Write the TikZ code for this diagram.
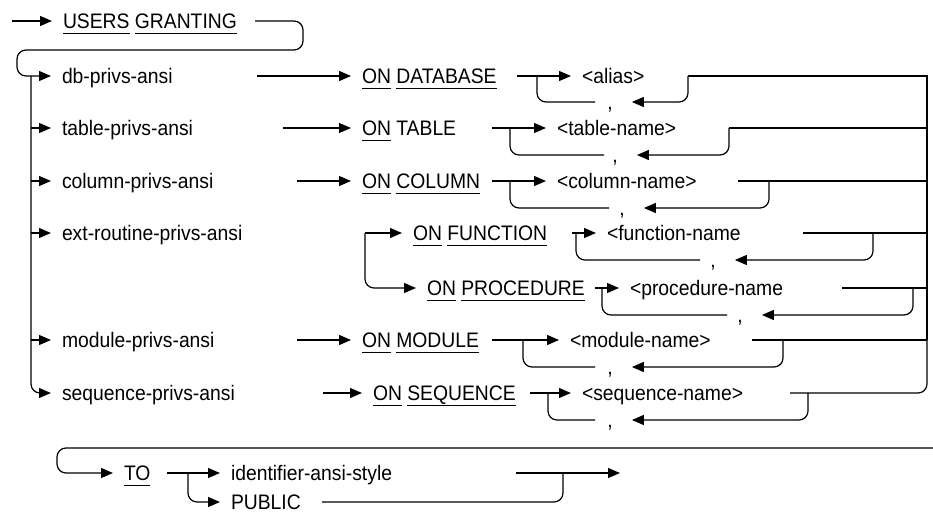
\documentclass[tikz,border=0pt]{standalone}
\usepackage{fontspec}
\setmainfont{Liberation Sans}[FakeStretch=0.92]
\usetikzlibrary{arrows.meta}
\newsavebox\kwbox
\newcommand\kwd[1]{\sbox\kwbox{#1}\rlap{\rule[-5.2pt]{\wd\kwbox}{1.1pt}}\usebox\kwbox}
\tikzset{
    rail/.style={line width=1.2pt},
    railarrow/.style={rail, -{Triangle[length=12pt, width=10pt]}},
    term/.style={anchor=west, xshift=-11pt, inner sep=0pt, outer xsep=11pt,
        text height=15pt, text depth=0pt, font=\fontsize{21}{24}\selectfont},
    commanode/.style={inner sep=0pt, text height=15pt, text depth=0pt,
        font=\fontsize{21}{24}\selectfont},
    back/.style={rail, rounded corners=9pt},
    backarrow/.style={railarrow, rounded corners=9pt, shorten >=19pt}
}
\begin{document}
\begin{tikzpicture}[x=1pt, y=-1pt]
    \useasboundingbox (0,0) rectangle (933,513);

    % head
    \coordinate (start) at (12,21);
    \node[term] (ug) at (63,21) {\kwd{USERS} \kwd{GRANTING}};
    \coordinate (ugout) at (255,21);
    \coordinate (wrapR) at (303,50);
    \coordinate (wrapL) at (17,50);
    \draw[railarrow] (start) -- (ug.west);

    % privilege rows
    \node[term] (dbp) at (62,76) {db-privs-ansi};
    \node[term] (tbp) at (62,128) {table-privs-ansi};
    \node[term] (cp) at (62,181) {column-privs-ansi};
    \node[term] (erp) at (62,233) {ext-routine-privs-ansi};
    \node[term] (mp) at (62,340) {module-privs-ansi};
    \node[term] (sp) at (62,393) {sequence-privs-ansi};
    \coordinate (busL) at (31,76);
    \draw[railarrow, rounded corners=9pt] (ugout) -| (wrapR) -- (wrapL) |- (dbp.west);
    \draw[railarrow, rounded corners=9pt] (busL) |- (sp.west);
    \draw[railarrow] (busL |- tbp.west) -- (tbp.west);
    \draw[railarrow] (busL |- cp.west) -- (cp.west);
    \draw[railarrow] (busL |- erp.west) -- (erp.west);
    \draw[railarrow] (busL |- mp.west) -- (mp.west);

    % ON DATABASE
    \node[term] (ondb) at (362,76) {\kwd{ON} \kwd{DATABASE}};
    \node[term] (alias) at (582,76) {<alias>};
    \node[commanode] (cA) at (610,102) {,};
    \coordinate (aA) at (257,76);
    \coordinate (aA2) at (517,76);
    \coordinate (bA) at (537,76);
    \coordinate (rA) at (688,76);
    \coordinate (busR) at (927,76);
    \draw[railarrow] (aA) -- (ondb.west);
    \draw[railarrow] (aA2) -- (alias.west);
    \draw[backarrow] (rA) |- (cA.east);
    \draw[back, shorten <=12pt] (cA.west) -| (bA);

    % ON TABLE
    \node[term] (ontb) at (362,128) {\kwd{ON} TABLE};
    \node[term] (tname) at (557,128) {<table-name>};
    \node[commanode] (cB) at (615,155) {,};
    \coordinate (aB) at (283,128);
    \coordinate (aB2) at (492,128);
    \coordinate (bB) at (510,128);
    \coordinate (rB) at (729,128);
    \draw[railarrow] (aB) -- (ontb.west);
    \draw[railarrow] (aB2) -- (tname.west);
    \draw[rail] (rB) -- (busR |- rB);
    \draw[backarrow] (rB) |- (cB.east);
    \draw[back, shorten <=8pt] (cB.west) -| (bB);

    % ON COLUMN
    \node[term] (oncol) at (362,181) {\kwd{ON} \kwd{COLUMN}};
    \node[term] (cname) at (557,181) {<column-name>};
    \node[commanode] (cC) at (622,208) {,};
    \coordinate (aC) at (297,181);
    \coordinate (aC2) at (492,181);
    \coordinate (bC) at (510,181);
    \coordinate (outC) at (738,181);
    \coordinate (rC) at (769,181);
    \draw[railarrow] (aC) -- (oncol.west);
    \draw[railarrow] (aC2) -- (cname.west);
    \draw[rail] (outC) -- (busR |- outC);
    \draw[backarrow] (rC) |- (cC.east);
    \draw[back, shorten <=10pt] (cC.west) -| (bC);

    % ON FUNCTION / ON PROCEDURE
    \node[term] (onfn) at (413,233) {\kwd{ON} \kwd{FUNCTION}};
    \node[term] (fname) at (607,233) {<function-name};
    \node[commanode] (cD) at (713,260) {,};
    \node[term] (onproc) at (427,288) {\kwd{ON} \kwd{PROCEDURE}};
    \node[term] (pname) at (630,288) {<procedure-name};
    \node[commanode] (cE) at (740,315) {,};
    \coordinate (bD) at (365,233);
    \coordinate (aD) at (572,233);
    \coordinate (bD2) at (576,233);
    \coordinate (outD) at (803,233);
    \coordinate (rD) at (873,233);
    \coordinate (aE) at (595,288);
    \coordinate (bE) at (602,288);
    \coordinate (outE) at (842,288);
    \coordinate (rE) at (913,288);
    \draw[railarrow] (bD) -- (onfn.west);
    \draw[railarrow, rounded corners=9pt] (bD) |- (onproc.west);
    \draw[railarrow] (aD) -- (fname.west);
    \draw[rail] (outD) -- (busR |- outD);
    \draw[backarrow] (rD) |- (cD.east);
    \draw[back, shorten <=10pt] (cD.west) -| (bD2);
    \draw[railarrow] (aE) -- (pname.west);
    \draw[rail] (outE) -- (busR |- outE);
    \draw[backarrow] (rE) |- (cE.east);
    \draw[back, shorten <=10pt] (cE.west) -| (bE);

    % ON MODULE
    \node[term] (onmod) at (362,340) {\kwd{ON} \kwd{MODULE}};
    \node[term] (mname) at (570,340) {<module-name>};
    \node[commanode] (cF) at (610,367) {,};
    \coordinate (aF) at (297,340);
    \coordinate (aF2) at (492,340);
    \coordinate (bF) at (523,340);
    \coordinate (outF) at (752,340);
    \coordinate (rF) at (783,340);
    \draw[railarrow] (aF) -- (onmod.west);
    \draw[railarrow] (aF2) -- (mname.west);
    \draw[rail] (outF) -- (busR |- outF);
    \draw[backarrow] (rF) |- (cF.east);
    \draw[back, shorten <=12pt] (cF.west) -| (bF);

    % ON SEQUENCE
    \node[term] (onseq) at (373,393) {\kwd{ON} \kwd{SEQUENCE}};
    \node[term] (sname) at (582,393) {<sequence-name>};
    \node[commanode] (cG) at (610,420) {,};
    \coordinate (aG) at (323,393);
    \coordinate (aG2) at (530,393);
    \coordinate (bG) at (548,393);
    \coordinate (outG) at (790,393);
    \coordinate (rG) at (808,393);
    \draw[railarrow] (aG) -- (onseq.west);
    \draw[railarrow] (aG2) -- (sname.west);
    \draw[backarrow] (rG) |- (cG.east);
    \draw[back, shorten <=12pt] (cG.west) -| (bG);

    % right collector
    \draw[rail] (rA) -- (busR) -- (busR |- mp.west);
    \draw[back] (busR |- mp.west) |- (outG);

    % TO
    \coordinate (contR) at (933,448);
    \coordinate (contL) at (57,448);
    \node[term] (to) at (124,473) {\kwd{TO}};
    \node[term] (ident) at (231,473) {identifier-ansi-style};
    \node[term] (pub) at (231,502) {PUBLIC};
    \coordinate (aT) at (167,473);
    \coordinate (bT) at (188,473);
    \coordinate (outI) at (516,473);
    \coordinate (endT) at (620,473);
    \coordinate (outP) at (322,502);
    \coordinate (jT) at (563,473);
    \draw[railarrow, rounded corners=9pt] (contR) -- (contL) |- (to.west);
    \draw[railarrow] (aT) -- (ident.west);
    \draw[railarrow, rounded corners=9pt] (bT) |- (pub.west);
    \draw[railarrow] (outI) -- (endT);
    \draw[back] (outP) -| (jT);
\end{tikzpicture}
\end{document}
